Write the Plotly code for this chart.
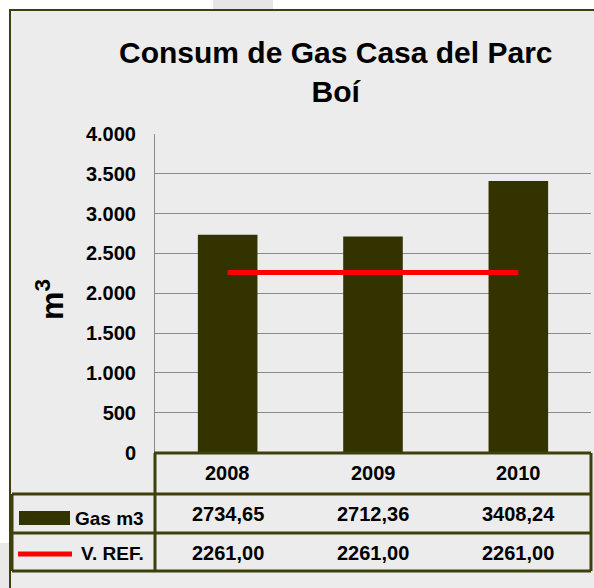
import plotly.graph_objects as go

# ---- data ----
years = ["2008", "2009", "2010"]
gas_m3 = [2734.65, 2712.36, 3408.24]
v_ref = [2261.00, 2261.00, 2261.00]
y_ticks = [0, 500, 1000, 1500, 2000, 2500, 3000, 3500, 4000]
series_names = ["Gas m3", "V. REF."]
title_text = "Consum de Gas Casa del Parc<br>Boí"

W, H = 594, 588
FONT = "Liberation Sans, Arial, sans-serif"
OLIVE = "#3f3f0c"
BAR = "#333300"
BG = "#ececec"


def X(px):
    return px / W


def Y(py):
    return 1 - py / H


def fmt(v):
    return f"{v:.2f}".replace(".", ",")


fig = go.Figure()
fig.add_trace(go.Bar(x=years, y=gas_m3, width=0.41, marker=dict(color=BAR, line=dict(width=0)),
                     name=series_names[0], showlegend=False))
fig.add_trace(go.Scatter(x=years, y=v_ref, mode="lines", line=dict(color="#ff0000", width=5),
                         name=series_names[1], showlegend=False))

shapes = []
# chart background with border
shapes.append(dict(type="rect", xref="paper", yref="paper", x0=X(10), y0=Y(10), x1=1.05, y1=-0.05,
                   fillcolor=BG, line=dict(color=OLIVE, width=2), layer="below"))
# small grey patches outside the frame
shapes.append(dict(type="rect", xref="paper", yref="paper", x0=X(213), y0=Y(0), x1=X(273), y1=Y(9),
                   fillcolor="#e6e6e6", line=dict(width=0), layer="below"))
shapes.append(dict(type="rect", xref="paper", yref="paper", x0=X(0), y0=Y(543), x1=X(9), y1=Y(588),
                   fillcolor="#e9e9e9", line=dict(width=0), layer="below"))

# data table lines
tl = dict(color=OLIVE, width=3)
for (x0, y0, x1, y1) in [(154, 453, 591, 453), (12, 494, 591, 494), (12, 533, 591, 533),
                         (12, 571, 591, 571), (12, 494, 12, 571), (155, 453, 155, 571),
                         (591, 453, 591, 571)]:
    shapes.append(dict(type="line", xref="paper", yref="paper", x0=X(x0), y0=Y(y0), x1=X(x1), y1=Y(y1),
                       line=tl, layer="above"))
# legend keys
shapes.append(dict(type="rect", xref="paper", yref="paper", x0=X(19), y0=Y(511), x1=X(70), y1=Y(525),
                   fillcolor=BAR, line=dict(width=0), layer="above"))
shapes.append(dict(type="line", xref="paper", yref="paper", x0=X(18), y0=Y(554), x1=X(72), y1=Y(554),
                   line=dict(color="#ff0000", width=5), layer="above"))

ann = []
bold = dict(family=FONT, color="black", weight="bold")
ann.append(dict(text=title_text, xref="paper", yref="paper", x=X(336), y=Y(72), showarrow=False,
                xanchor="center", yanchor="middle", font=dict(size=30, **bold)))
ann.append(dict(text="m<sup>3</sup>", xref="paper", yref="paper", x=X(50), y=Y(300), showarrow=False,
                textangle=-90, xanchor="center", yanchor="middle", font=dict(size=32, **bold)))
for i, yr in enumerate(years):
    ann.append(dict(text=yr, xref="x", yref="paper", x=i, y=Y(473), showarrow=False,
                    xanchor="center", yanchor="middle", font=dict(size=20, **bold)))
    ann.append(dict(text=fmt(gas_m3[i]), xref="x", yref="paper", x=i, y=Y(514), showarrow=False,
                    xanchor="center", yanchor="middle", font=dict(size=20, **bold)))
    ann.append(dict(text=fmt(v_ref[i]), xref="x", yref="paper", x=i, y=Y(553), showarrow=False,
                    xanchor="center", yanchor="middle", font=dict(size=20, **bold)))
ann.append(dict(text=series_names[0], xref="paper", yref="paper", x=X(146), y=Y(518), showarrow=False,
                xanchor="right", yanchor="middle", font=dict(size=19, **bold)))
ann.append(dict(text=series_names[1], xref="paper", yref="paper", x=X(146), y=Y(553), showarrow=False,
                xanchor="right", yanchor="middle", font=dict(size=19, **bold)))

fig.update_layout(
    width=W, height=H,
    margin=dict(l=0, r=0, t=0, b=0, pad=0, autoexpand=False),
    paper_bgcolor="white",
    plot_bgcolor="rgba(0,0,0,0)",
    separators=",.",
    showlegend=False,
    shapes=shapes,
    annotations=ann,
    xaxis=dict(type="category", domain=[X(155), X(591)], range=[-0.5, 2.5], automargin=False,
               showticklabels=False, showgrid=False, zeroline=False,
               showline=False, ticks="", fixedrange=True),
    yaxis=dict(domain=[Y(452.5), Y(134)], range=[0, 4000], tickvals=y_ticks, tickformat=",d",
               automargin=False,
               showgrid=True, gridcolor="#8a8a8a", gridwidth=1, zeroline=False,
               showline=True, linecolor="#8a8a8a", linewidth=1, ticks="",
               ticklabelstandoff=14, fixedrange=True,
               tickfont=dict(size=20, family=FONT, color="black", weight="bold")),
)

fig.write_html(
    "out.html",
    config={"displayModeBar": False, "staticPlot": True},
    post_script=(
        "document.documentElement.style.margin='0';document.body.style.margin='0';"
        "document.body.style.padding='0';document.documentElement.style.overflow='hidden';"
        "document.body.style.overflow='hidden';"
        "var gd=document.getElementById('{plot_id}');"
        "gd.style.position='fixed';gd.style.top='0px';gd.style.left='0px';"
    ),
)
